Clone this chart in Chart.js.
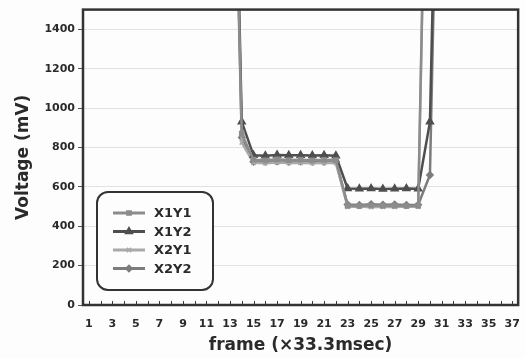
<!DOCTYPE html>
<html>
<head>
<meta charset="utf-8">
<script src="https://cdn.jsdelivr.net/npm/chart.js@4/dist/chart.umd.min.js"></script>
<style>
  html, body { margin: 0; padding: 0; background: #fdfdfd; }
  #wrap { width: 525px; height: 358px; }
</style>
</head>
<body>
<div id="wrap"><canvas id="voltageChart" width="525" height="358"></canvas></div>
<script>
// frame numbers (x 33.3 msec)
const frames = [1, 2, 3, 4, 5, 6, 7, 8, 9, 10, 11, 12, 13, 14, 15, 16, 17, 18, 19,
                20, 21, 22, 23, 24, 25, 26, 27, 28, 29, 30, 31, 32, 33, 34, 35, 36, 37];
const yTicks = [0, 200, 400, 600, 800, 1000, 1200, 1400];

// voltages in mV, saturated frames lie far above the plotted range
const x1y1 = [3500, 3500, 3500, 3500, 3500, 3500, 3500, 3500, 3500, 3500, 3500, 3500, 3500,
              870, 738, 735, 740, 736, 738, 735, 737, 736,
              505, 503, 506, 504, 505, 503, 504,
              3500, 3500, 3500, 3500, 3500, 3500, 3500, 3500];
const x1y2 = [3600, 3600, 3600, 3600, 3600, 3600, 3600, 3600, 3600, 3600, 3600, 3600, 3600,
              930, 760, 758, 762, 760, 761, 759, 760, 758,
              592, 590, 591, 589, 590, 591, 590,
              930, 3600, 3600, 3600, 3600, 3600, 3600, 3600];
const x2y1 = [3400, 3400, 3400, 3400, 3400, 3400, 3400, 3400, 3400, 3400, 3400, 3400, 3400,
              825, 722, 720, 723, 721, 722, 720, 721, 722,
              498, 500, 497, 499, 498, 500, 499,
              3400, 3400, 3400, 3400, 3400, 3400, 3400, 3400];
const x2y2 = [3450, 3450, 3450, 3450, 3450, 3450, 3450, 3450, 3450, 3450, 3450, 3450, 3450,
              850, 728, 727, 730, 728, 729, 727, 728, 729,
              510, 508, 511, 509, 510, 508, 509,
              660, 3450, 3450, 3450, 3450, 3450, 3450, 3450];

const FONT = "'DejaVu Sans', 'Liberation Sans', Arial, sans-serif";
const INK = '#2a2a2a';

function series(label, data, color, style, radius) {
    return {
        label: label,
        data: data,
        borderColor: color,
        backgroundColor: color,
        pointBackgroundColor: color,
        borderWidth: 2.5,
        pointStyle: style,
        pointRadius: radius,
        pointBorderWidth: 1.5,
        pointBorderColor: color,
        tension: 0
    };
}

// frame border, small inside ticks on the x axis and the boxed legend
const framePlugin = {
    id: 'framePlugin',
    afterDatasetsDraw(chart) {
        const ctx = chart.ctx;
        const a = chart.chartArea;
        const xs = chart.scales.x;
        ctx.save();
        ctx.strokeStyle = '#3a3a3a';
        ctx.lineWidth = 1;
        frames.forEach(function(f, i) {
            const px = Math.round(xs.getPixelForValue(i)) + 0.5;
            ctx.beginPath();
            ctx.moveTo(px, a.bottom);
            ctx.lineTo(px, a.bottom - 4);
            ctx.stroke();
        });
        ctx.lineWidth = 2.5;
        ctx.strokeStyle = '#333';
        ctx.strokeRect(a.left, a.top, a.right - a.left, a.bottom - a.top);

        // legend box
        const bx = a.left + 14, by = a.bottom - 113, bw = 116, bh = 98;
        ctx.fillStyle = '#fdfdfd';
        ctx.strokeStyle = '#333';
        ctx.lineWidth = 2;
        ctx.beginPath();
        ctx.roundRect(bx, by, bw, bh, 11);
        ctx.fill();
        ctx.stroke();
        chart.data.datasets.forEach(function(ds, i) {
            const y = by + 21 + i * 18.5;
            ctx.strokeStyle = ds.borderColor;
            ctx.fillStyle = ds.borderColor;
            ctx.lineWidth = 3;
            ctx.beginPath();
            ctx.moveTo(bx + 16, y);
            ctx.lineTo(bx + 48, y);
            ctx.stroke();
            ctx.lineWidth = 1.5;
            Chart.helpers.drawPoint(ctx, {
                pointStyle: ds.pointStyle,
                radius: ds.pointRadius,
                borderWidth: 1.5,
                rotation: 0
            }, bx + 32, y);
            ctx.fillStyle = INK;
            ctx.font = 'bold 13px ' + FONT;
            ctx.textBaseline = 'middle';
            ctx.textAlign = 'left';
            ctx.fillText(ds.label, bx + 57, y + 1);
        });
        ctx.restore();
    }
};

const ctx = document.getElementById('voltageChart').getContext('2d');
const chart = new Chart(ctx, {
    type: 'line',
    data: {
        labels: frames,
        datasets: [
            series('X1Y1', x1y1, '#8c8c8c', 'rect', 3),
            series('X1Y2', x1y2, '#4e4e4e', 'triangle', 4),
            series('X2Y1', x2y1, '#a9a9a9', 'crossRot', 3),
            series('X2Y2', x2y2, '#7c7c7c', 'rectRot', 3.2)
        ]
    },
    options: {
        responsive: false,
        animation: false,
        layout: { padding: { left: 6, right: 4, top: 8, bottom: 2 } },
        plugins: {
            legend: { display: false },
            tooltip: { enabled: false }
        },
        scales: {
            x: {
                offset: true,
                afterFit: function(scale) { scale.height = 51; },
                grid: { display: false, offset: true },
                border: { display: false },
                ticks: {
                    autoSkip: false,
                    maxRotation: 0,
                    padding: 5,
                    color: INK,
                    font: { family: FONT, size: 11, weight: 'bold' },
                    callback: function(value, index) {
                        return index % 2 === 0 ? String(frames[index]) : '';
                    }
                },
                title: {
                    display: true,
                    text: 'frame (\u00d733.3msec)',
                    color: INK,
                    padding: { top: 3, bottom: 0 },
                    font: { family: FONT, size: 17, weight: 'bold' }
                }
            },
            y: {
                min: 0,
                max: 1500,
                afterFit: function(scale) { scale.width = 77; },
                afterBuildTicks: function(scale) {
                    scale.ticks = yTicks.map(function(v) { return { value: v }; });
                },
                border: { display: false },
                grid: {
                    color: '#e2e2e2',
                    lineWidth: 1,
                    tickLength: 5,
                    tickColor: '#555'
                },
                ticks: {
                    padding: 3,
                    color: INK,
                    font: { family: FONT, size: 11, weight: 'bold' },
                    callback: function(value) { return String(value); }
                },
                title: {
                    display: true,
                    text: 'Voltage (mV)',
                    color: INK,
                    padding: { top: 7, bottom: 4 },
                    font: { family: FONT, size: 17, weight: 'bold' }
                }
            }
        }
    },
    plugins: [framePlugin]
});
</script>
</body>
</html>
